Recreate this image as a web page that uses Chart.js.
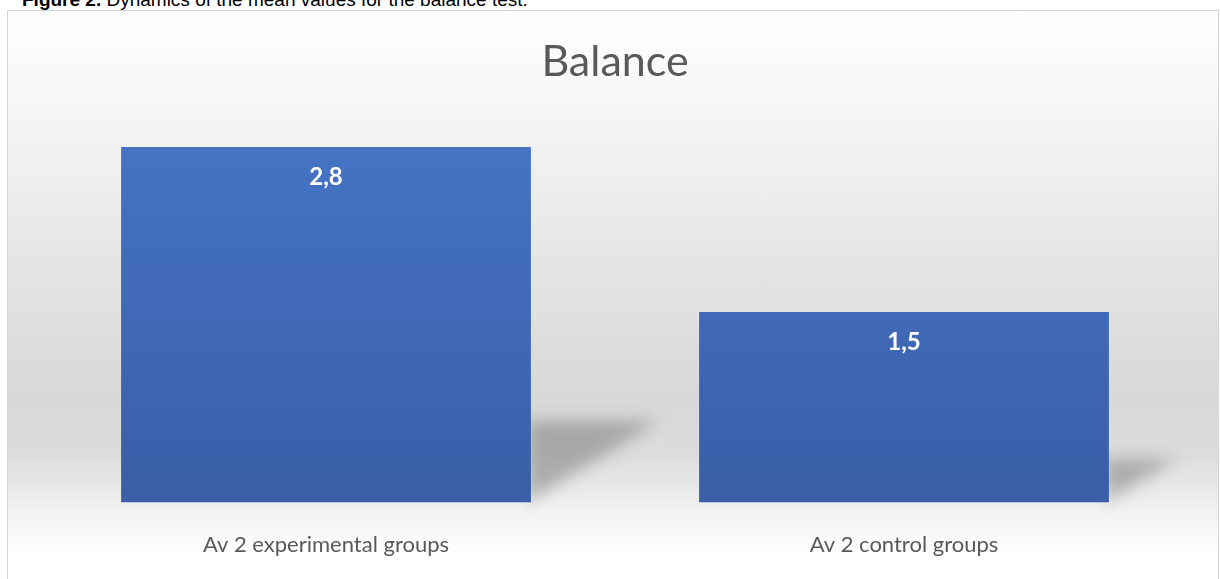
<!DOCTYPE html>
<html>
<head>
<meta charset="utf-8">
<script src="https://cdn.jsdelivr.net/npm/chart.js@4"></script>
<style>
  html, body { margin: 0; padding: 0; width: 1220px; height: 579px; overflow: hidden; background: #ffffff; }
  #caption { position: absolute; left: 22px; top: -11px; font-family: "Liberation Sans", Arial, sans-serif; font-size: 19px; color: #000; white-space: nowrap; line-height: 22px; }
  #frame { position: absolute; left: 7px; top: 10px; width: 1210px; height: 569px; border: 1px solid #d4d4d4; border-bottom: none;
    background: linear-gradient(to bottom, #ffffff 0%, #f3f3f3 22%, #e4e4e4 46%, #d8d8d8 68%, #dcdcdc 78%, #f2f2f2 88%, #ffffff 96%, #ffffff 100%); }
  #wrap { position: absolute; left: 0; top: 0; width: 1210px; height: 576px; }
</style>
</head>
<body>
<div id="caption"><b>Figure 2.</b> Dynamics of the mean values for the balance test.</div>
<div id="frame"><div id="wrap"><canvas id="c"></canvas></div></div>
<script>
const titleText = "Balance";
const categories = ["Av 2 experimental groups", "Av 2 control groups"];
const values = [2.8, 1.5];
const yMin = 0;
const yMax = 3;

const shadowPlugin = {
  id: 'barShadow',
  beforeDatasetsDraw(chart) {
    const ctx = chart.ctx;
    const meta = chart.getDatasetMeta(0);
    meta.data.forEach(bar => {
      const right = bar.x + bar.width / 2;
      const base = bar.base;
      const h = base - bar.y;
      const sh = h * 0.23;
      const sw = h * 0.36;
      ctx.save();
      ctx.filter = 'blur(8px)';
      ctx.fillStyle = 'rgba(90,90,90,0.4)';
      ctx.beginPath();
      ctx.moveTo(right - 4, base - sh);
      ctx.lineTo(right + sw, base - sh);
      ctx.lineTo(right - 4, base);
      ctx.closePath();
      ctx.fill();
      ctx.restore();
    });
  }
};

const labelPlugin = {
  id: 'barLabels',
  afterDatasetsDraw(chart) {
    const ctx = chart.ctx;
    const meta = chart.getDatasetMeta(0);
    ctx.save();
    ctx.fillStyle = '#ffffff';
    ctx.font = 'bold 24px Lato, "Open Sans", sans-serif';
    ctx.textAlign = 'center';
    ctx.textBaseline = 'middle';
    meta.data.forEach((bar, i) => {
      const txt = values[i].toFixed(1).replace('.', ',');
      ctx.fillText(txt, bar.x, bar.y + 30);
    });
    ctx.restore();
  }
};

const ctx = document.getElementById('c');
new Chart(ctx, {
  type: 'bar',
  data: {
    labels: categories,
    datasets: [{
      data: values,
      backgroundColor: (c) => {
        const area = c.chart.chartArea;
        if (!area) return '#4472C4';
        const g = c.chart.ctx.createLinearGradient(0, area.top, 0, area.bottom);
        g.addColorStop(0, '#4674C6');
        g.addColorStop(1, '#3A5EA7');
        return g;
      },
      borderWidth: 0,
      categoryPercentage: 1.0,
      barPercentage: 0.709
    }]
  },
  options: {
    responsive: true,
    maintainAspectRatio: false,
    animation: false,
    layout: { padding: { left: 29, right: 25, top: 0, bottom: 0 } },
    plugins: {
      legend: { display: false },
      tooltip: { enabled: false },
      title: {
        display: true,
        text: titleText,
        color: '#595959',
        font: { family: 'Lato, "Open Sans", sans-serif', size: 43, weight: 'normal' },
        padding: { top: 25, bottom: 34 }
      }
    },
    scales: {
      x: {
        grid: { display: false, drawTicks: false },
        border: { display: false },
        ticks: { color: '#595959', font: { family: 'Lato, "Open Sans", sans-serif', size: 22 }, padding: 29 }
      },
      y: {
        display: false,
        min: yMin,
        max: yMax
      }
    }
  },
  plugins: [shadowPlugin, labelPlugin]
});
</script>
</body>
</html>
